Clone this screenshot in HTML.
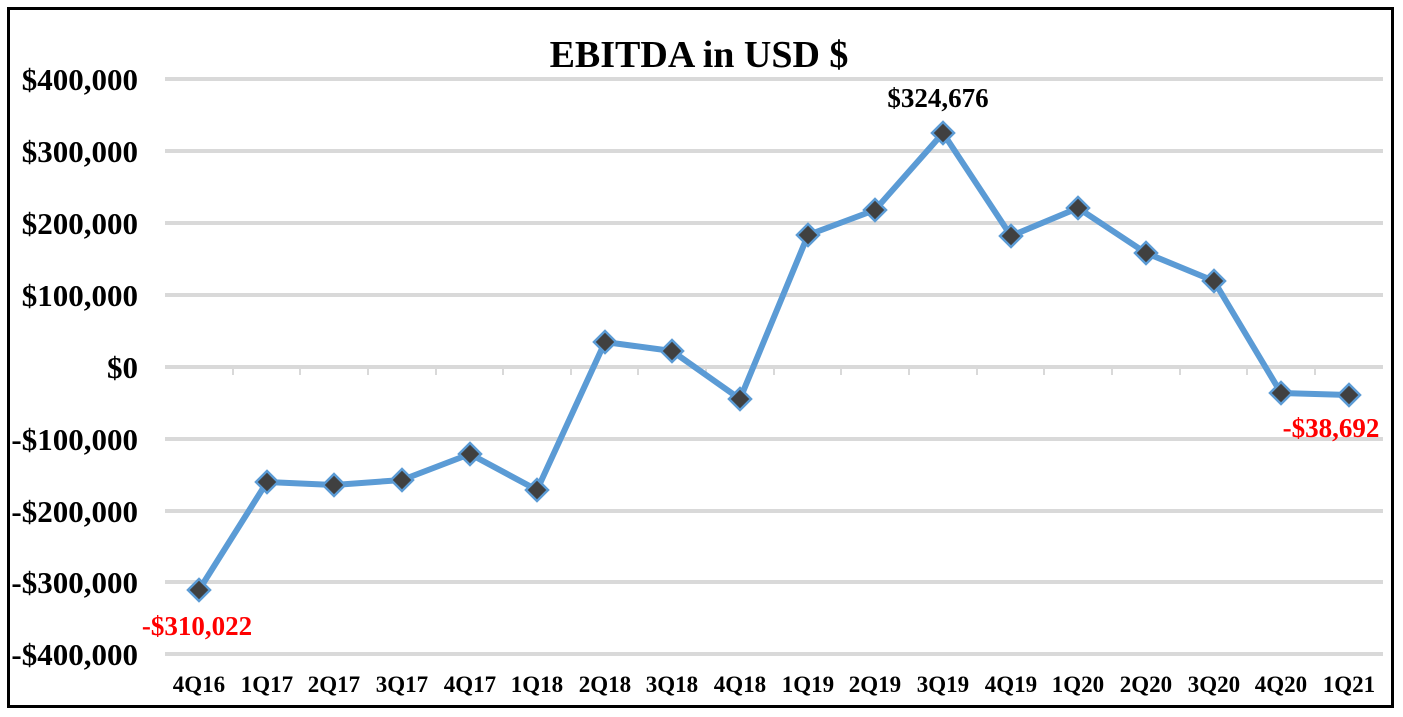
<!DOCTYPE html>
<html><head><meta charset="utf-8"><style>
html,body{margin:0;padding:0;background:#fff}
svg{display:block}
text{font-family:"Liberation Serif",serif;font-weight:bold}
</style></head><body>
<svg width="1403" height="717" viewBox="0 0 1403 717">
<rect x="8.5" y="8.5" width="1384" height="698" fill="#fff" stroke="#000" stroke-width="3"/>
<text x="699" y="67" font-size="38" text-anchor="middle">EBITDA in USD $</text>
<g stroke="#d9d9d9" stroke-width="4">
<line x1="165" x2="1383" y1="79" y2="79"/>
<line x1="165" x2="1383" y1="151" y2="151"/>
<line x1="165" x2="1383" y1="223" y2="223"/>
<line x1="165" x2="1383" y1="295" y2="295"/>
<line x1="165" x2="1383" y1="367" y2="367"/>
<line x1="165" x2="1383" y1="439" y2="439"/>
<line x1="165" x2="1383" y1="511" y2="511"/>
<line x1="165" x2="1383" y1="582" y2="582"/>
<line x1="165" x2="1383" y1="654" y2="654"/>
</g>
<g stroke="#d9d9d9" stroke-width="2">
<line x1="233" x2="233" y1="367" y2="375"/><line x1="300" x2="300" y1="367" y2="375"/><line x1="368" x2="368" y1="367" y2="375"/><line x1="436" x2="436" y1="367" y2="375"/><line x1="503" x2="503" y1="367" y2="375"/><line x1="571" x2="571" y1="367" y2="375"/><line x1="638" x2="638" y1="367" y2="375"/><line x1="706" x2="706" y1="367" y2="375"/><line x1="774" x2="774" y1="367" y2="375"/><line x1="841" x2="841" y1="367" y2="375"/><line x1="909" x2="909" y1="367" y2="375"/><line x1="977" x2="977" y1="367" y2="375"/><line x1="1044" x2="1044" y1="367" y2="375"/><line x1="1112" x2="1112" y1="367" y2="375"/><line x1="1180" x2="1180" y1="367" y2="375"/><line x1="1247" x2="1247" y1="367" y2="375"/><line x1="1315" x2="1315" y1="367" y2="375"/>
</g>
<g font-size="31" text-anchor="end">
<text x="138" y="90">$400,000</text>
<text x="138" y="162">$300,000</text>
<text x="138" y="234">$200,000</text>
<text x="138" y="306">$100,000</text>
<text x="138" y="378">$0</text>
<text x="138" y="450">-$100,000</text>
<text x="138" y="522">-$200,000</text>
<text x="138" y="593">-$300,000</text>
<text x="138" y="665">-$400,000</text>
</g>
<g font-size="23" text-anchor="middle">
<text x="199" y="692">4Q16</text><text x="267" y="692">1Q17</text><text x="334" y="692">2Q17</text><text x="402" y="692">3Q17</text><text x="470" y="692">4Q17</text><text x="537" y="692">1Q18</text><text x="605" y="692">2Q18</text><text x="672" y="692">3Q18</text><text x="740" y="692">4Q18</text><text x="808" y="692">1Q19</text><text x="875" y="692">2Q19</text><text x="943" y="692">3Q19</text><text x="1011" y="692">4Q19</text><text x="1078" y="692">1Q20</text><text x="1146" y="692">2Q20</text><text x="1214" y="692">3Q20</text><text x="1281" y="692">4Q20</text><text x="1349" y="692">1Q21</text>
</g>
<polyline fill="none" stroke="#5b9bd5" stroke-width="6" stroke-linejoin="round" points="199,590 267,482 334,485 402,480 470,454 537,490 605,342 672,351 740,399 808,235 875,210 943,133 1011,236 1078,208 1146,253 1214,281 1281,393 1349,395"/>
<g fill="#404040" stroke="#5b9bd5" stroke-width="2.5">
<path d="M199,579l11,11l-11,11l-11,-11z"/><path d="M267,471l11,11l-11,11l-11,-11z"/><path d="M334,474l11,11l-11,11l-11,-11z"/><path d="M402,469l11,11l-11,11l-11,-11z"/><path d="M470,443l11,11l-11,11l-11,-11z"/><path d="M537,479l11,11l-11,11l-11,-11z"/><path d="M605,331l11,11l-11,11l-11,-11z"/><path d="M672,340l11,11l-11,11l-11,-11z"/><path d="M740,388l11,11l-11,11l-11,-11z"/><path d="M808,224l11,11l-11,11l-11,-11z"/><path d="M875,199l11,11l-11,11l-11,-11z"/><path d="M943,122l11,11l-11,11l-11,-11z"/><path d="M1011,225l11,11l-11,11l-11,-11z"/><path d="M1078,197l11,11l-11,11l-11,-11z"/><path d="M1146,242l11,11l-11,11l-11,-11z"/><path d="M1214,270l11,11l-11,11l-11,-11z"/><path d="M1281,382l11,11l-11,11l-11,-11z"/><path d="M1349,384l11,11l-11,11l-11,-11z"/>
</g>
<text x="197" y="635" font-size="27" fill="#ff0000" text-anchor="middle">-$310,022</text>
<text x="938" y="107" font-size="27" text-anchor="middle">$324,676</text>
<text x="1331" y="437" font-size="27" fill="#ff0000" text-anchor="middle">-$38,692</text>
</svg>
</body></html>
